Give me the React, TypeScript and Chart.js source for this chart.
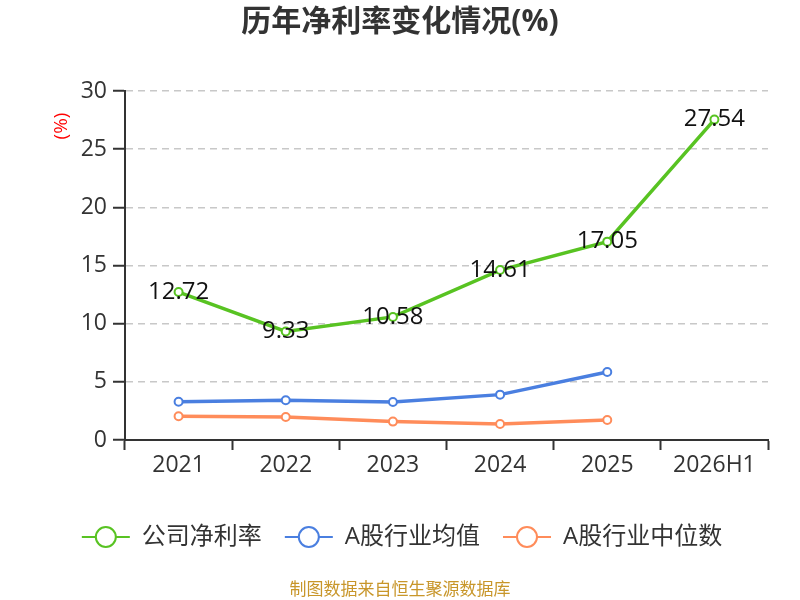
import { useEffect, useRef } from 'react';
import Chart from 'chart.js/auto';

const categories = ['2021', '2022', '2023', '2024', '2025', '2026H1'];
const netMargin = [12.72, 9.33, 10.58, 14.61, 17.05, 27.54];
const industryMean = [3.29, 3.41, 3.27, 3.9, 5.85, null];
const industryMedian = [2.04, 1.98, 1.58, 1.38, 1.72, null];
const yMin = 0;
const yMax = 30;
const yStep = 5;

const seriesNames = ['公司净利率', 'A股行业均值', 'A股行业中位数'];
const seriesColors = ['#58c322', '#4a7fe0', '#ff8c5a'];

const FONT = '"Open Sans", "Noto Sans CJK SC", sans-serif';
const TEXT = '#333333';

const decorPlugin = {
    id: 'decor',
    afterDatasetsDraw(chart: any) {
        const { ctx } = chart;
        // value labels on the company series
        const meta = chart.getDatasetMeta(0);
        ctx.save();
        ctx.font = `24px ${FONT}`;
        ctx.fillStyle = '#111';
        ctx.textAlign = 'center';
        ctx.textBaseline = 'middle';
        meta.data.forEach((pt: any, i: number) => {
            ctx.fillText(netMargin[i].toFixed(2), pt.x, pt.y);
        });
        ctx.restore();
    },
    afterDraw(chart: any) {
        const { ctx } = chart;
        ctx.save();

        // title
        ctx.font = `bold 30px ${FONT}`;
        ctx.fillStyle = TEXT;
        ctx.textAlign = 'center';
        ctx.textBaseline = 'middle';
        ctx.fillText('历年净利率变化情况(%)', 400, 22);

        // y axis unit
        ctx.save();
        ctx.translate(62, 126);
        ctx.rotate(-Math.PI / 2);
        ctx.font = `19px ${FONT}`;
        ctx.fillStyle = '#ff0000';
        ctx.fillText('(%)', 0, 0);
        ctx.restore();

        // legend
        ctx.font = `24px ${FONT}`;
        const iconW = 48;
        const gapIcon = 12;
        const gapItem = 23;
        const widths = seriesNames.map((n) => ctx.measureText(n).width);
        const total = widths.reduce((a, w) => a + iconW + gapIcon + w, 0) + gapItem * (seriesNames.length - 1);
        let x = 402 - total / 2;
        const ly = 537;
        seriesNames.forEach((name, i) => {
            ctx.strokeStyle = seriesColors[i];
            ctx.lineWidth = 2;
            ctx.beginPath();
            ctx.moveTo(x, ly);
            ctx.lineTo(x + iconW, ly);
            ctx.stroke();
            ctx.beginPath();
            ctx.arc(x + iconW / 2, ly, 10, 0, Math.PI * 2);
            ctx.fillStyle = '#fff';
            ctx.fill();
            ctx.stroke();
            ctx.fillStyle = TEXT;
            ctx.textAlign = 'left';
            ctx.fillText(name, x + iconW + gapIcon, ly);
            x += iconW + gapIcon + widths[i] + gapItem;
        });

        // source note
        ctx.font = `17px ${FONT}`;
        ctx.fillStyle = '#c8962a';
        ctx.textAlign = 'center';
        ctx.fillText('制图数据来自恒生聚源数据库', 400, 590);

        ctx.restore();
    },
};

export default function App() {
    const canvasRef = useRef<HTMLCanvasElement>(null);
    const chartRef = useRef<Chart | null>(null);

    useEffect(() => {
        document.body.style.margin = '0';
        if (!canvasRef.current) return;
        const ctx = canvasRef.current.getContext('2d');
        if (!ctx) return;

        if (chartRef.current) chartRef.current.destroy();

        const series = [netMargin, industryMean, industryMedian];

        chartRef.current = new Chart(ctx, {
            type: 'line',
            data: {
                labels: categories,
                datasets: series.map((data, i) => ({
                    label: seriesNames[i],
                    data,
                    borderColor: seriesColors[i],
                    backgroundColor: '#fff',
                    borderWidth: 3.5,
                    pointRadius: 4,
                    pointBorderWidth: 2,
                    pointBackgroundColor: '#fff',
                    pointBorderColor: seriesColors[i],
                    tension: 0,
                    spanGaps: false,
                })),
            },
            options: {
                animation: false,
                responsive: false,
                layout: { padding: { top: 91, right: 32, left: 0, bottom: 0 } },
                plugins: {
                    legend: { display: false },
                    title: { display: false },
                    tooltip: { enabled: false },
                },
                scales: {
                    x: {
                        offset: true,
                        grid: {
                            offset: true,
                            drawOnChartArea: false,
                            drawTicks: true,
                            tickLength: 10,
                            tickColor: TEXT,
                            tickWidth: 2,
                        },
                        border: { color: TEXT, width: 2 },
                        ticks: {
                            color: TEXT,
                            font: { size: 23, family: FONT },
                            padding: 2,
                            maxRotation: 0,
                        },
                        afterFit(scale: any) {
                            scale.height = 160;
                        },
                    },
                    y: {
                        min: yMin,
                        max: yMax,
                        grid: {
                            color: '#c8c8c8',
                            lineWidth: 1.5,
                            tickLength: 12,
                            tickColor: TEXT,
                            tickWidth: 2,
                            tickBorderDash: [],
                        },
                        border: { color: TEXT, width: 2, dash: [7, 5] },
                        ticks: {
                            stepSize: yStep,
                            color: TEXT,
                            font: { size: 23, family: FONT },
                            padding: 6,
                        },
                        afterFit(scale: any) {
                            scale.width = 125;
                        },
                    },
                },
            },
            plugins: [decorPlugin],
        } as any);

        return () => {
            if (chartRef.current) {
                chartRef.current.destroy();
                chartRef.current = null;
            }
        };
    }, []);

    return (
        <div style={{ width: 800, height: 600, background: '#fff' }}>
            <canvas ref={canvasRef} width={800} height={600} />
        </div>
    );
}
